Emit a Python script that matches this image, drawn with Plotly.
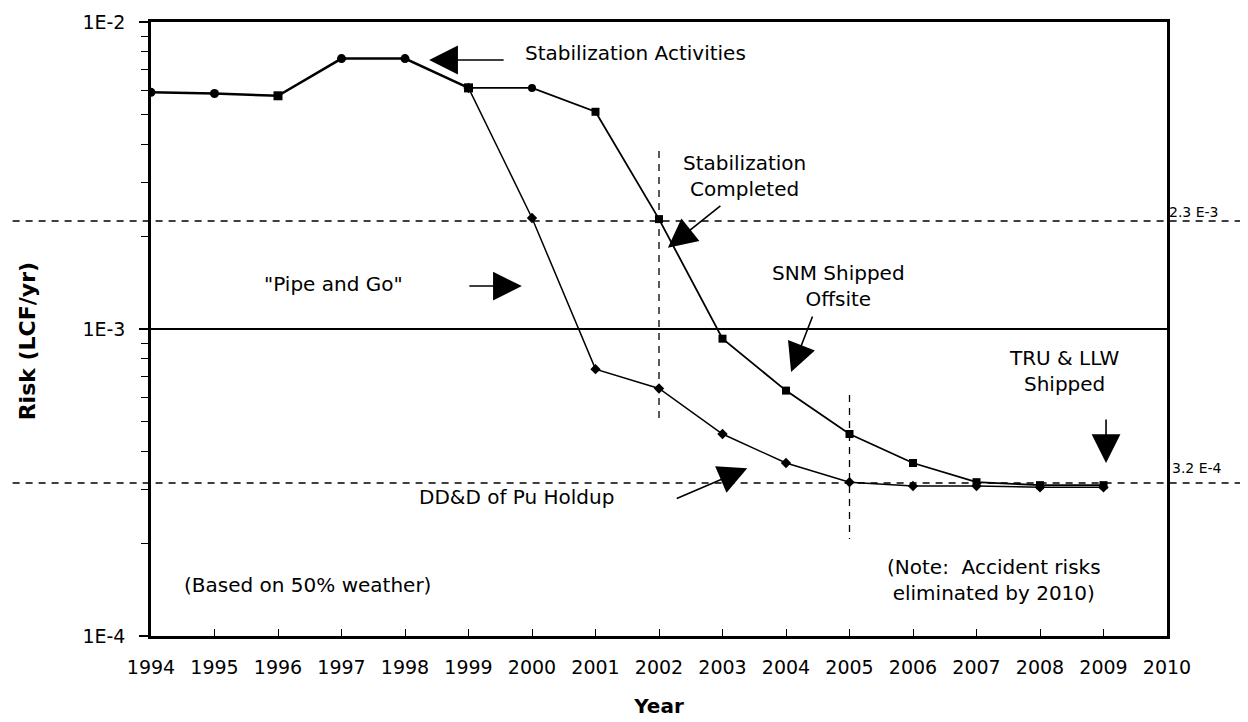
import plotly.graph_objects as go
import math

# ---- data ----
base_years = [1994, 1995, 1996, 1997, 1998, 1999]
base_risk = [5.9e-3, 5.85e-3, 5.75e-3, 7.6e-3, 7.6e-3, 6.1e-3]
base_symbols = ["circle", "circle", "square", "circle", "circle", "square"]

pipe_years = [1999, 2000, 2001, 2002, 2003, 2004, 2005, 2006, 2007, 2008, 2009]
pipe_risk = [6.1e-3, 2.3e-3, 7.4e-4, 6.4e-4, 4.55e-4, 3.66e-4, 3.17e-4, 3.08e-4, 3.08e-4, 3.05e-4, 3.05e-4]

stab_years = [1999, 2000, 2001, 2002, 2003, 2004, 2005, 2006, 2007, 2008, 2009]
stab_risk = [6.1e-3, 6.1e-3, 5.1e-3, 2.28e-3, 9.3e-4, 6.3e-4, 4.55e-4, 3.66e-4, 3.17e-4, 3.1e-4, 3.1e-4]
stab_symbols = ["square", "circle"] + ["square"] * 9

ref_upper = 2.25e-3   # "2.3 E-3" reference line
ref_lower = 3.15e-4   # "3.2 E-4" reference line
ref_mid = 1e-3
vline_2002 = (2002, 3.8e-3, 5.1e-4)
vline_2005 = (2005, 6.1e-4, 2.07e-4)

x_ticks = list(range(1994, 2011))
y_ticks = [1e-4, 1e-3, 1e-2]
y_ticktext = ["1E-4", "1E-3", "1E-2"]

FONT = "DejaVu Sans, Liberation Sans, Arial, sans-serif"

fig = go.Figure()

fig.add_trace(go.Scatter(
    x=base_years, y=base_risk, mode="lines+markers",
    line=dict(color="black", width=2.5),
    marker=dict(symbol=base_symbols, size=9, color="black"),
    showlegend=False, hoverinfo="skip"))

fig.add_trace(go.Scatter(
    x=pipe_years, y=pipe_risk, mode="lines+markers",
    line=dict(color="black", width=1.5),
    marker=dict(symbol="diamond", size=8, color="black"),
    showlegend=False, hoverinfo="skip"))

fig.add_trace(go.Scatter(
    x=stab_years, y=stab_risk, mode="lines+markers",
    line=dict(color="black", width=1.8),
    marker=dict(symbol=stab_symbols, size=8, color="black"),
    showlegend=False, hoverinfo="skip"))

# reference lines
for val in (ref_upper, ref_lower):
    fig.add_shape(type="line", xref="paper", yref="y", x0=-0.149, x1=1.08,
                  y0=val, y1=val, line=dict(color="black", width=1.5, dash="7px,6px"))
fig.add_shape(type="line", xref="paper", yref="y", x0=0, x1=1,
              y0=ref_mid, y1=ref_mid, line=dict(color="black", width=1.8))
for xv, ya, yb in (vline_2002, vline_2005):
    fig.add_shape(type="line", xref="x", yref="y", x0=xv, x1=xv,
                  y0=ya, y1=yb, line=dict(color="black", width=1.3, dash="7px,6px"))

L = math.log10

def txt(x, y, text, size=20, xanchor="center", align="center", xref="x", yref="y", angle=0):
    fig.add_annotation(x=x, y=y, xref=xref, yref=yref, text=text, showarrow=False,
                       xanchor=xanchor, yanchor="middle", align=align, textangle=angle,
                       font=dict(family=FONT, size=size, color="black"))

def arrow(x, y, ax, ay):
    fig.add_annotation(x=x, y=y, xref="x", yref="y", ax=ax, ay=ay, text="",
                       showarrow=True, arrowhead=2, arrowsize=3.6, arrowwidth=1.6,
                       arrowcolor="black")

txt(1999.86, L(7.93e-3), "Stabilization Activities", xanchor="left")
arrow(1998.38, L(7.52e-3), 76, 0)

txt(2003.34, L(3.15e-3), "Stabilization<br>Completed")
arrow(2002.14, L(1.84e-3), 54, -43)

txt(1996.88, L(1.40e-3), "\"Pipe and Go\"")
arrow(1999.84, L(1.38e-3), -54, 0)

txt(2004.82, L(1.38e-3), "SNM Shipped<br>Offsite")
arrow(2004.08, L(7.24e-4), 22, -57)

txt(2008.39, L(7.3e-4), "TRU &amp; LLW<br>Shipped")
arrow(2009.04, L(3.66e-4), 0, -45)

txt(1999.75, L(2.84e-4), "DD&amp;D of Pu Holdup")
arrow(2003.39, L(3.52e-4), -72, 31)

txt(1996.46, L(1.47e-4), "(Based on 50% weather)")
txt(2007.28, L(1.52e-4), "(Note:&nbsp; Accident risks<br>eliminated by 2010)")

txt(1.0, L(2.4e-3), "2.3 E-3", size=14, xanchor="left", xref="paper")
txt(1.003, L(3.52e-4), "3.2 E-4", size=14, xanchor="left", xref="paper")

# y-axis title placed as an annotation for exact position
txt(-0.122, 0.48, "<b>Risk (LCF/yr)</b>", size=22, xref="paper", yref="paper", angle=-90)

minor_vals = [k * 10 ** e for e in (-4, -3) for k in range(2, 10)]

fig.update_xaxes(
    range=[1994, 2010], tickvals=x_ticks, ticktext=[str(v) for v in x_ticks],
    ticks="inside", ticklen=7, tickwidth=1.2, tickcolor="black",
    ticklabelstandoff=12,
    showline=True, linecolor="black", linewidth=2.5, mirror=True,
    showgrid=False, zeroline=False,
    tickfont=dict(family=FONT, size=19, color="black"),
    title=dict(text="<b>Year</b>", font=dict(family=FONT, size=20, color="black"), standoff=23))

fig.update_yaxes(
    type="log", range=[-4, -2], tickvals=y_ticks, ticktext=y_ticktext,
    ticks="outside", ticklen=9, tickwidth=1.5, tickcolor="black",
    ticklabelstandoff=10,
    minor=dict(tickvals=minor_vals, ticks="outside", ticklen=7, tickwidth=1.2, tickcolor="black"),
    showline=True, linecolor="black", linewidth=2.5, mirror=True,
    showgrid=False, zeroline=False,
    tickfont=dict(family=FONT, size=19, color="black"))

# page adds an 8px body margin, so the figure is shifted to compensate
fig.update_layout(
    width=1240, height=714,
    margin=dict(l=143, r=81, t=14, b=86, autoexpand=False),
    paper_bgcolor="white", plot_bgcolor="white",
    showlegend=False)

fig.write_html("out.html")
